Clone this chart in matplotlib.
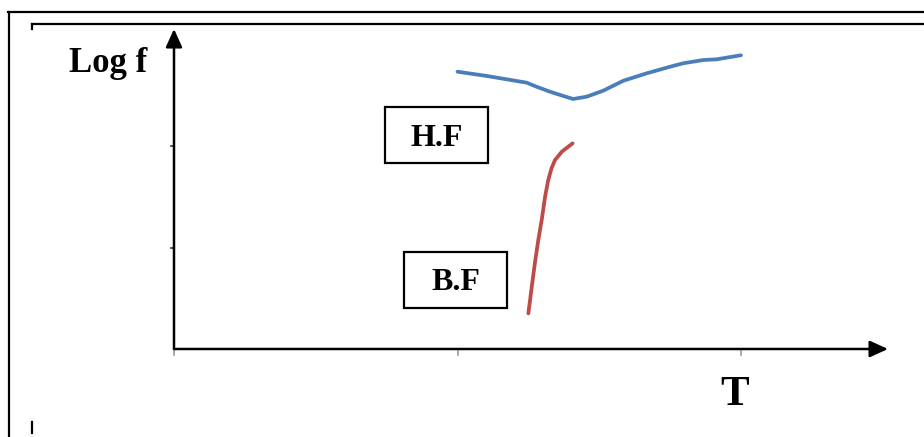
import matplotlib.pyplot as plt
from matplotlib.lines import Line2D
from matplotlib.patches import Rectangle

# Temperature (arbitrary units) vs log of frequency
hf_T = [1.0, 1.103, 1.244, 1.279, 1.326, 1.373, 1.408, 1.456, 1.514,
        1.585, 1.667, 1.750, 1.796, 1.867, 1.914, 2.0]
hf_logf = [2.732, 2.690, 2.624, 2.584, 2.535, 2.493, 2.463, 2.486, 2.545,
           2.643, 2.716, 2.781, 2.815, 2.847, 2.854, 2.894]

bf_T = [1.250, 1.262, 1.273, 1.285, 1.297, 1.309, 1.320, 1.332, 1.344,
        1.368, 1.406]
bf_logf = [0.351, 0.614, 0.847, 1.074, 1.271, 1.501, 1.665, 1.783, 1.862,
           1.944, 2.026]

x_ticks = [0, 1, 2]
y_ticks = [1, 2]

W, H = 924, 437
fig = plt.figure(figsize=(W / 100, H / 100), dpi=100)
fig.patch.set_facecolor("white")


def px(x, y):
    return x / W, 1 - y / H


# page frame lines around the figure
frame = [
    ((8, 12), (924, 12)),
    ((9, 12), (9, 437)),
    ((32, 24), (924, 24)),
    ((32, 24), (32, 29)),
    ((32, 422), (32, 433)),
]
for (x0, y0), (x1, y1) in frame:
    a, b = px(x0, y0)
    c, d = px(x1, y1)
    fig.add_artist(Line2D([a, c], [b, d], color="black", lw=1.6,
                          transform=fig.transFigure))

# plot area: origin at (174, 349), one unit = 283.5 px in x, 101.5 px in y
x0, y0 = 174, 349
ax = fig.add_axes([x0 / W, 1 - y0 / H, (888 - x0) / W, (y0 - 29) / H])
ax.set_xlim(0, (888 - x0) / 283.5)
ax.set_ylim(0, (y0 - 29) / 101.5)
for s in ax.spines.values():
    s.set_visible(False)
ax.set_xticks([])
ax.set_yticks([])

# axes with arrow heads
for tip in [(1, 0), (0, 1)]:
    ax.annotate("", xy=tip, xytext=(0, 0), xycoords="axes fraction",
                arrowprops=dict(arrowstyle="-|>,head_length=1.1,head_width=0.5",
                                color="black", lw=1.8, shrinkA=0, shrinkB=0))

# faint tick marks
for t in x_ticks:
    ax.plot([t, t], [-0.015, -0.06], color="#999999", lw=1.2, clip_on=False)
for t in y_ticks:
    ax.plot([-0.012, 0], [t, t], color="#333333", lw=1.2, clip_on=False)

ax.plot(hf_T, hf_logf, color="#4a7ebb", lw=2.7, solid_capstyle="round",
        solid_joinstyle="round")
ax.plot(bf_T, bf_logf, color="#be4b48", lw=2.7, solid_capstyle="round",
        solid_joinstyle="round")

serif = ["Liberation Serif", "DejaVu Serif"]

# labelled boxes
for label, (bx0, by0, bx1, by1) in [("H.F", (385, 107, 488, 163)),
                                    ("B.F", (404, 252, 507, 308))]:
    xa, ya = px(bx0, by1)
    fig.add_artist(Rectangle((xa, ya), (bx1 - bx0) / W, (by1 - by0) / H,
                             transform=fig.transFigure, fc="white",
                             ec="black", lw=1.6))
    fig.text(*px((bx0 + bx1) / 2, (by0 + by1) / 2 + 3), label, family=serif,
             weight="bold", fontsize=23, ha="center", va="center")

fig.text(*px(108, 63), "Log f", family=serif, weight="bold", fontsize=25,
         ha="center", va="center")
fig.text(*px(735, 395), "T", family=serif, weight="bold", fontsize=31,
         ha="center", va="center")

fig.savefig("out.png", dpi=100, facecolor="white")
